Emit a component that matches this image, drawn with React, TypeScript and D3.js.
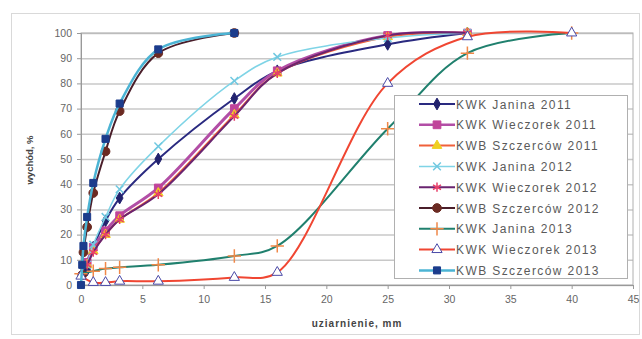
import React, { useEffect, useRef } from 'react';
import * as d3 from 'd3';

// sieve sizes, mm
const xJanina11 = [0.5, 1, 2, 3.15, 6.3, 12.5, 16, 25, 31.5];
const yJanina11 = [6, 15, 25.5, 34.5, 50, 74, 85, 95.5, 100];
const xWieczorek11 = [0.5, 1, 2, 3.15, 6.3, 12.5, 16, 25, 31.5];
const yWieczorek11 = [9, 15, 21.5, 27.5, 38.5, 70, 85, 99, 100];
const xSzczercow11 = [0.5, 1, 2, 3.15, 6.3, 12.5, 16, 25, 31.5];
const ySzczercow11 = [8, 13.5, 20, 26, 36.5, 67.5, 84, 98.5, 100];
const xJanina12 = [0.5, 1, 2, 3.15, 6.3, 12.5, 16, 25, 31.5];
const yJanina12 = [8, 16, 27, 38, 55, 81, 90.5, 98, 100];
const xWieczorek12 = [0.5, 1, 2, 3.15, 6.3, 12.5, 16, 25, 31.5];
const yWieczorek12 = [8, 13, 20, 26, 36, 67, 84, 99, 100];
const xSzczercow12 = [0.1, 0.2, 0.5, 1, 2, 3.15, 6.3, 12.5];
const ySzczercow12 = [4, 13, 23, 36.5, 53, 69, 92, 100];
const xJanina13 = [0, 1, 2, 3.15, 6.3, 12.5, 16, 25, 31.5, 40];
const yJanina13 = [4.5, 5.5, 6.5, 7, 8, 11.5, 15.5, 62, 92, 100];
const xWieczorek13 = [0, 1, 2, 3.15, 6.3, 12.5, 16, 25, 31.5, 40];
const yWieczorek13 = [3.5, 1, 1, 1.5, 1.5, 3, 5, 80, 98.5, 100];
const xSzczercow13 = [0, 0.1, 0.2, 0.5, 1, 2, 3.15, 6.3, 12.5];
const ySzczercow13 = [0, 8, 15.5, 27, 40.5, 58, 72, 93.5, 100];

const seriesNames = [
  'KWK Janina 2011',
  'KWK Wieczorek 2011',
  'KWB Szczerców 2011',
  'KWK Janina 2012',
  'KWK Wieczorek 2012',
  'KWB Szczerców 2012',
  'KWK Janina 2013',
  'KWK Wieczorek 2013',
  'KWB Szczerców 2013',
];
const seriesX = [xJanina11, xWieczorek11, xSzczercow11, xJanina12, xWieczorek12, xSzczercow12, xJanina13, xWieczorek13, xSzczercow13];
const seriesY = [yJanina11, yWieczorek11, ySzczercow11, yJanina12, yWieczorek12, ySzczercow12, yJanina13, yWieczorek13, ySzczercow13];

const xTicks = [0, 5, 10, 15, 20, 25, 30, 35, 40, 45];
const yTicks = [0, 10, 20, 30, 40, 50, 60, 70, 80, 90, 100];

type Style = { line: string; width: number; marker: string; fill: string; stroke: string; size: number };
const styles: Style[] = [
  { line: '#2a2a80', width: 2, marker: 'diamond', fill: '#22226e', stroke: '#22226e', size: 40 },
  { line: '#b24ea6', width: 3, marker: 'square', fill: '#c0449a', stroke: '#c0449a', size: 60 },
  { line: '#f0603a', width: 2, marker: 'triangle', fill: '#f0d020', stroke: '#f0d020', size: 40 },
  { line: '#7fd4e6', width: 1.5, marker: 'x', fill: 'none', stroke: '#70c8e0', size: 40 },
  { line: '#6a2470', width: 2, marker: 'star', fill: '#e8406a', stroke: '#e8406a', size: 60 },
  { line: '#4a1e2a', width: 2, marker: 'circle', fill: '#6b2a22', stroke: '#6b2a22', size: 60 },
  { line: '#20806e', width: 2, marker: 'plus', fill: 'none', stroke: '#f08848', size: 60 },
  { line: '#f04632', width: 2, marker: 'triangle', fill: '#ffffff', stroke: '#4a4aa8', size: 45 },
  { line: '#4cb4d4', width: 2.5, marker: 'square', fill: '#1c3c8c', stroke: '#1c3c8c', size: 50 },
];

const symbolFor = (m: string) => {
  switch (m) {
    case 'diamond': return d3.symbolDiamond;
    case 'square': return d3.symbolSquare;
    case 'triangle': return d3.symbolTriangle;
    case 'x': return d3.symbolX;
    case 'star': return d3.symbolAsterisk;
    case 'circle': return d3.symbolCircle;
    case 'plus': return d3.symbolPlus;
    default: return d3.symbolCircle;
  }
};
const isStrokeOnly = (m: string) => m === 'x' || m === 'star' || m === 'plus';

export default function App() {
  const svgRef = useRef<SVGSVGElement>(null);
  const width = 642;
  const height = 339;

  useEffect(() => {
    if (!svgRef.current) return;
    const svg = d3.select(svgRef.current);
    svg.selectAll('*').remove();

    const font = 'Arial, "Liberation Sans", sans-serif';
    const margin = { top: 33, right: 9, bottom: 54, left: 81 };
    const innerWidth = width - margin.left - margin.right;
    const innerHeight = height - margin.top - margin.bottom;

    // outer chart border
    svg.append('rect')
      .attr('x', 11.5).attr('y', 13.5)
      .attr('width', 628).attr('height', 321)
      .attr('fill', '#fff')
      .attr('stroke', '#d9d9d9');

    const g = svg.append('g').attr('transform', `translate(${margin.left},${margin.top})`);

    const xScale = d3.scaleLinear().domain([0, 45]).range([0, innerWidth]);
    const yScale = d3.scaleLinear().domain([0, 100]).range([innerHeight, 0]);

    // grid
    g.append('g')
      .call(d3.axisLeft(yScale).tickValues(yTicks).tickSize(-innerWidth).tickFormat(() => ''))
      .call(s => s.select('.domain').remove())
      .call(s => s.selectAll('line').attr('stroke', '#c8c8c8').attr('stroke-width', 1.5));

    g.append('rect')
      .attr('width', innerWidth).attr('height', innerHeight)
      .attr('fill', 'none').attr('stroke', '#b0b0b0');

    // axes
    const xAxis = g.append('g')
      .attr('transform', `translate(0,${innerHeight})`)
      .call(d3.axisBottom(xScale).tickValues(xTicks).tickSize(4).tickPadding(7));
    xAxis.select('.domain').attr('stroke', '#999');
    xAxis.selectAll('line').attr('stroke', '#999');
    xAxis.selectAll('text').attr('font-family', font).attr('font-size', 10.5).attr('fill', '#666');

    const yAxis = g.append('g')
      .call(d3.axisLeft(yScale).tickValues(yTicks).tickSize(4).tickPadding(5));
    yAxis.select('.domain').attr('stroke', '#999');
    yAxis.selectAll('line').attr('stroke', '#999');
    yAxis.selectAll('text').attr('font-family', font).attr('font-size', 10.5).attr('fill', '#666');

    svg.append('text')
      .attr('x', 357).attr('y', 327)
      .attr('text-anchor', 'middle')
      .attr('font-family', font).attr('font-size', 10).attr('font-weight', 'bold')
      .attr('letter-spacing', 1).attr('fill', '#444')
      .text('uziarnienie, mm');

    svg.append('text')
      .attr('transform', 'translate(33,160) rotate(-90)')
      .attr('text-anchor', 'middle')
      .attr('font-family', font).attr('font-size', 9.5).attr('font-weight', 'bold')
      .attr('fill', '#444')
      .text('wychód, %');

    const line = d3.line<[number, number]>()
      .x(d => xScale(d[0]))
      .y(d => yScale(d[1]))
      .curve(d3.curveCatmullRom.alpha(0.5));

    const plot = g.append('g');
    seriesNames.forEach((name, i) => {
      const pts: [number, number][] = seriesX[i].map((x, j) => [x, seriesY[i][j]]);
      const st = styles[i];
      plot.append('path')
        .datum(pts)
        .attr('fill', 'none')
        .attr('stroke', st.line)
        .attr('stroke-width', st.width)
        .attr('d', line);
      plot.selectAll(`.m${i}`)
        .data(pts)
        .join('path')
        .attr('class', `m${i}`)
        .attr('transform', d => `translate(${xScale(d[0])},${yScale(d[1])})`)
        .attr('d', d3.symbol(symbolFor(st.marker), st.size)())
        .attr('fill', isStrokeOnly(st.marker) ? 'none' : st.fill)
        .attr('stroke', st.stroke)
        .attr('stroke-width', isStrokeOnly(st.marker) ? 1.5 : 1);
    });

    // legend
    const lg = svg.append('g').attr('transform', 'translate(394,95)');
    lg.append('rect')
      .attr('x', 0.5).attr('y', 0.5)
      .attr('width', 233).attr('height', 183)
      .attr('fill', '#fff').attr('stroke', '#b0b0b0');
    seriesNames.forEach((name, i) => {
      const st = styles[i];
      const y = 9 + i * 20.8;
      const row = lg.append('g').attr('transform', `translate(0,${y})`);
      row.append('line')
        .attr('x1', 25).attr('x2', 61)
        .attr('stroke', st.line).attr('stroke-width', Math.min(st.width, 2.5));
      row.append('path')
        .attr('transform', 'translate(43,0)')
        .attr('d', d3.symbol(symbolFor(st.marker), st.size)())
        .attr('fill', isStrokeOnly(st.marker) ? 'none' : st.fill)
        .attr('stroke', st.stroke)
        .attr('stroke-width', isStrokeOnly(st.marker) ? 1.5 : 1);
      row.append('text')
        .attr('x', 62).attr('y', 4.5)
        .attr('font-family', font).attr('font-size', 12)
        .attr('letter-spacing', 1.4)
        .attr('fill', '#5a5a5a')
        .text(name);
    });
  }, []);

  return <svg ref={svgRef} width={width} height={height} style={{ display: 'block', position: 'absolute', left: 0, top: 0 }} />;
}
